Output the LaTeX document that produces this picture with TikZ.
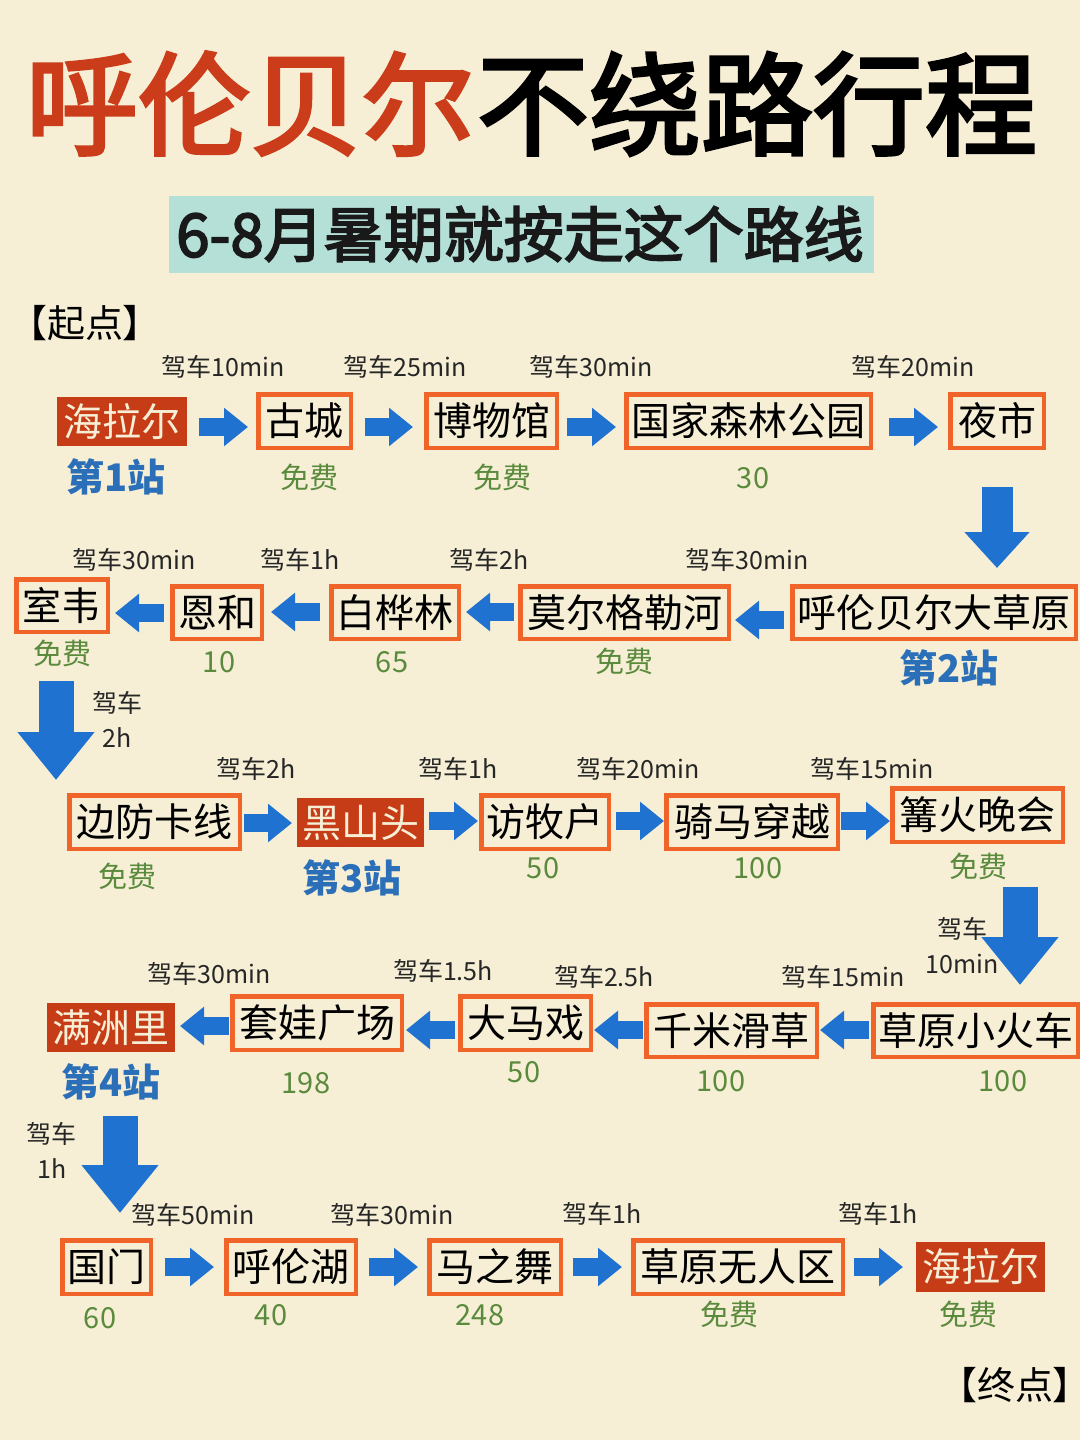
\documentclass[tikz,border=0pt]{standalone}
\usepackage{fontspec}
\setmainfont{Noto Sans CJK SC}
\newfontfamily\medf[FakeBold=3]{Noto Sans CJK SC}
\newfontfamily\palf[RawFeature=+palt]{Noto Sans CJK SC}
\usetikzlibrary{arrows.meta,calc}
\definecolor{bgc}{HTML}{F6EFD6}
\definecolor{orangeb}{HTML}{F0642A}
\definecolor{redb}{HTML}{C63C17}
\definecolor{blueb}{HTML}{1F72CF}
\definecolor{bluet}{HTML}{2A6FB8}
\definecolor{greent}{HTML}{5A8A3C}
\definecolor{tealb}{HTML}{B5E0D8}
\definecolor{titlered}{HTML}{CB3C1B}
\tikzset{
  every node/.style={inner sep=0pt,outer sep=0pt},
  big/.style={font=\fontsize{39}{39}\selectfont,text height=34.3pt,text depth=4.7pt},
  obox/.style={big,draw=orangeb,line width=4.5pt,outer sep=2.25pt,text=black},
  rbox/.style={big,fill=redb,text=bgc},
  timelbl/.style={font=\fontsize{25}{25}\selectfont,text height=22pt,text depth=3pt,text=black!85},
  costlbl/.style={font=\fontsize{29}{29}\selectfont,text height=25.5pt,text depth=3.5pt,text=greent},
  stationlbl/.style={font=\fontsize{38}{38}\selectfont\bfseries,text height=33.4pt,text depth=4.6pt,text=bluet},
  marklbl/.style={font=\fontsize{38}{38}\palf,text height=33.4pt,text depth=4.6pt,text=black},
  titlelbl/.style={font=\fontsize{112}{112}\medf,text height=98.5pt,text depth=13.5pt},
  flow/.style={draw=blueb,line width=18pt,-{Triangle[length=24pt,width=37pt]},blueb,shorten <=0pt},
  flowsmall/.style={draw=blueb,line width=31pt,-{Triangle[length=36pt,width=63pt]},blueb},
  flowbig/.style={draw=blueb,line width=35pt,-{Triangle[length=48pt,width=74pt]},blueb},
}
\newcommand{\obx}[6]{\node[obox,minimum width={#3-#2-4.5},minimum height={#5-#4-4.5}] (#1) at ({(#2+#3)/2},{(#4+#5)/2}) {#6};}
\newcommand{\rbx}[6]{\node[rbox,minimum width={#3-#2},minimum height={#5-#4}] (#1) at ({(#2+#3)/2},{(#4+#5)/2}) {#6};}
\newcommand{\rflow}[5]{\draw[flow,shorten <=#3pt,shorten >=#4pt] ([yshift=#5pt]#1.east) -- ([yshift=#5pt]#1.east -| #2.west);}
\newcommand{\lflow}[5]{\draw[flow,shorten <=#3pt,shorten >=#4pt] ([yshift=#5pt]#1.west) -- ([yshift=#5pt]#1.west -| #2.east);}
\begin{document}
\begin{tikzpicture}[x=1pt,y=-1pt]
\fill[bgc] (0,0) rectangle (1080,1440);
\useasboundingbox (0,0) rectangle (1080,1440);
% title
\node[titlelbl,text=titlered] (t1) at (250,104) {呼伦贝尔};
\node[titlelbl,text=black] (t2) at (757,104) {不绕路行程};
\fill[tealb] (169,196) rectangle (874,273);
\node[font=\fontsize{60}{60}\medf,text height=52.8pt,text depth=7.2pt,text=black!90] (sub) at (520,234) {6-8月暑期就按走这个路线};
\node[marklbl] (start) at (85,323) {【起点】};
\node[marklbl] (finish) at (1015,1385) {【终点】};
% row 1
\rbx{a}{57}{187}{397}{446}{海拉尔}
\obx{b}{256}{353}{392}{450}{古城}
\obx{c}{424}{559}{392}{450}{博物馆}
\obx{d}{624}{873}{392}{450}{国家森林公园}
\obx{e}{948}{1046}{392}{450}{夜市}
% row 2
\obx{f}{790}{1078}{584}{641}{呼伦贝尔大草原}
\obx{g}{518}{731}{584}{641}{莫尔格勒河}
\obx{h}{329}{461}{584}{641}{白桦林}
\obx{i}{170}{264}{584}{641}{恩和}
\obx{j}{14}{110}{577}{634}{室韦}
% row 3
\obx{k}{67}{242}{793}{851}{边防卡线}
\rbx{l}{297}{424}{798}{847}{黑山头}
\obx{m}{479}{611}{793}{851}{访牧户}
\obx{n}{664}{840}{793}{851}{骑马穿越}
\obx{o}{890}{1065}{786}{844}{篝火晚会}
% row 4
\obx{p}{871}{1080}{1002}{1059}{草原小火车}
\obx{q}{644}{819}{1002}{1059}{千米滑草}
\obx{r}{458}{593}{994}{1052}{大马戏}
\obx{s}{230}{404}{994}{1052}{套娃广场}
\rbx{u}{47}{175}{1003}{1052}{满洲里}
% row 5
\obx{v}{60}{153}{1238}{1296}{国门}
\obx{w}{224}{358}{1238}{1296}{呼伦湖}
\obx{x}{427}{563}{1238}{1296}{马之舞}
\obx{y}{631}{845}{1238}{1296}{草原无人区}
\rbx{z}{916}{1045}{1242}{1292}{海拉尔}
% flows row 1
\rflow{a}{b}{12}{8}{-5.5}
\rflow{b}{c}{12}{11}{-6}
\rflow{c}{d}{8}{8}{-6}
\rflow{d}{e}{16}{10}{-6}
\draw[flowsmall,shorten <=37pt,shorten >=16pt] (e.south) -- (e.south |- f.north);
% row 2
\lflow{f}{g}{6}{4}{-7.5}
\lflow{g}{h}{4}{5}{0.5}
\lflow{h}{i}{9}{7}{0.5}
\lflow{i}{j}{6}{5}{-0.5}
\draw[flowbig,shorten <=47pt,shorten >=13pt] ([xshift=-6pt]j.south) -- ([xshift=-6pt]j.south |- k.north);
% row 3
\rflow{k}{l}{2}{5}{-1}
\rflow{l}{m}{5}{1}{1.5}
\rflow{m}{n}{5}{0}{1}
\rflow{n}{o}{1}{0}{1}
\draw[flowbig,shorten <=43pt,shorten >=17pt] ([xshift=42.5pt]o.south) -- ([xshift=42.5pt]o.south |- p.north);
% row 4
\lflow{p}{q}{2}{1}{0.5}
\lflow{q}{r}{1}{1}{0.5}
\lflow{r}{s}{3}{2}{-7}
\lflow{s}{u}{1}{5}{-3}
\draw[flowbig,shorten <=64pt,shorten >=25pt] ([xshift=9pt]u.south) -- ([xshift=9pt]u.south |- v.north);
% row 5
\rflow{v}{w}{12}{10}{0}
\rflow{w}{x}{11}{9}{0}
\rflow{x}{y}{10}{9}{0}
\rflow{y}{z}{9}{13}{0}
% time labels
\node[timelbl] (t01) at (223,367) {驾车10min};
\node[timelbl] (t02) at (405,367) {驾车25min};
\node[timelbl] (t03) at (591,367) {驾车30min};
\node[timelbl] (t04) at (913,367) {驾车20min};
\node[timelbl] (t05) at (134,560) {驾车30min};
\node[timelbl] (t06) at (300,560) {驾车1h};
\node[timelbl] (t07) at (489,560) {驾车2h};
\node[timelbl] (t08) at (747,560) {驾车30min};
\node[timelbl] (t09) at (117,703) {驾车};
\node[timelbl] (t10) at (117,738) {2h};
\node[timelbl] (t11) at (256,769) {驾车2h};
\node[timelbl] (t12) at (458,769) {驾车1h};
\node[timelbl] (t13) at (638,769) {驾车20min};
\node[timelbl] (t14) at (872,769) {驾车15min};
\node[timelbl] (t15) at (962,929) {驾车};
\node[timelbl] (t16) at (962,964) {10min};
\node[timelbl] (t17) at (209,974) {驾车30min};
\node[timelbl] (t18) at (443,971) {驾车1.5h};
\node[timelbl] (t19) at (604,977) {驾车2.5h};
\node[timelbl] (t20) at (843,977) {驾车15min};
\node[timelbl] (t21) at (52,1134) {驾车};
\node[timelbl] (t22) at (52,1169) {1h};
\node[timelbl] (t23) at (193,1215) {驾车50min};
\node[timelbl] (t24) at (392,1215) {驾车30min};
\node[timelbl] (t25) at (602,1214) {驾车1h};
\node[timelbl] (t26) at (878,1214) {驾车1h};
% costs
\node[costlbl] (c01) at (309,477) {免费};
\node[costlbl] (c02) at (502,477) {免费};
\node[costlbl] (c03) at (753,477) {30};
\node[costlbl] (c04) at (62,653) {免费};
\node[costlbl] (c05) at (219,661) {10};
\node[costlbl] (c06) at (392,661) {65};
\node[costlbl] (c07) at (624,661) {免费};
\node[costlbl] (c08) at (127,876) {免费};
\node[costlbl] (c09) at (543,867) {50};
\node[costlbl] (c10) at (758,867) {100};
\node[costlbl] (c11) at (978,866) {免费};
\node[costlbl] (c12) at (306,1082) {198};
\node[costlbl] (c13) at (524,1071) {50};
\node[costlbl] (c14) at (721,1080) {100};
\node[costlbl] (c15) at (1003,1080) {100};
\node[costlbl] (c16) at (100,1317) {60};
\node[costlbl] (c17) at (271,1314) {40};
\node[costlbl] (c18) at (480,1314) {248};
\node[costlbl] (c19) at (729,1314) {免费};
\node[costlbl] (c20) at (968,1314) {免费};
% stations
\node[stationlbl] (s1) at (116,477) {第1站};
\node[stationlbl] (s2) at (949,668) {第2站};
\node[stationlbl] (s3) at (352,878) {第3站};
\node[stationlbl] (s4) at (111,1082) {第4站};
\end{tikzpicture}
\end{document}
